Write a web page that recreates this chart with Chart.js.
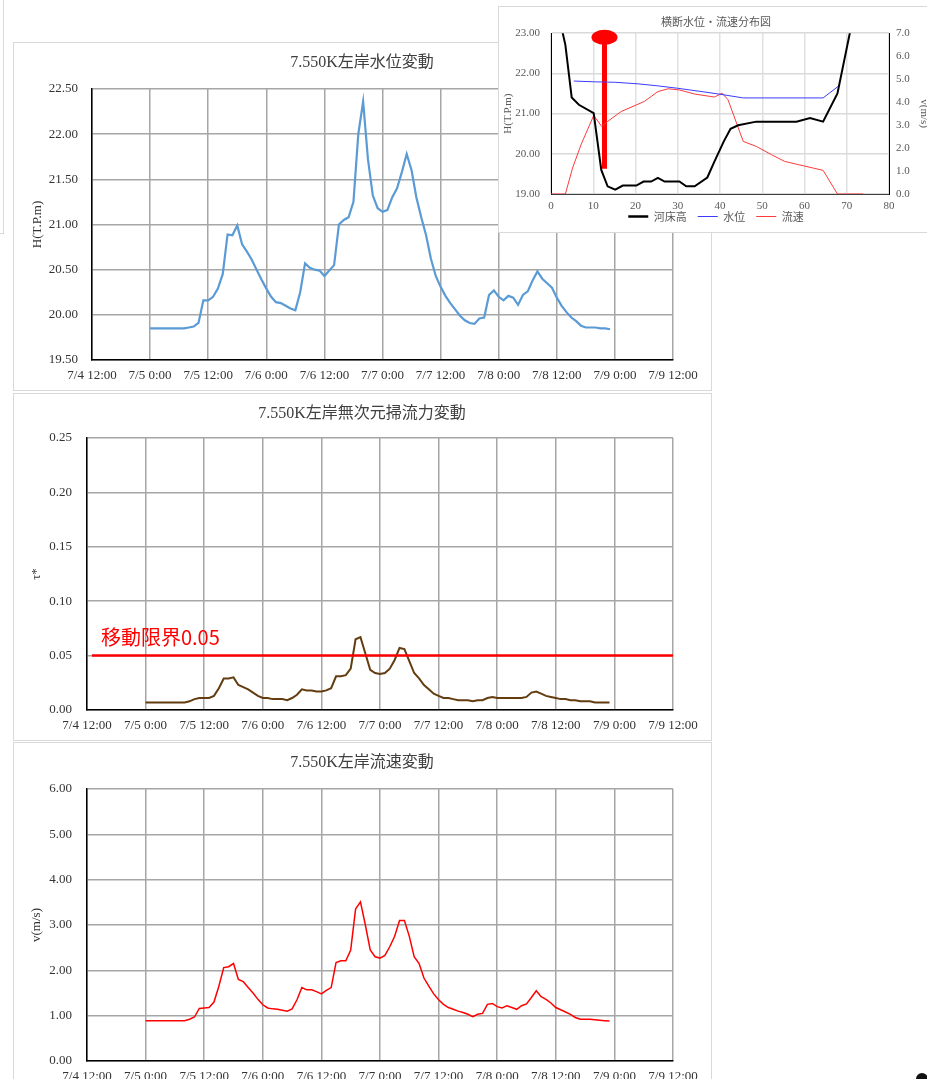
<!DOCTYPE html>
<html lang="ja">
<head>
<meta charset="utf-8">
<title>7.550K左岸 水位・掃流力・流速変動</title>
<script src="https://cdn.jsdelivr.net/npm/chart.js@4.4.1/dist/chart.umd.min.js"></script>
<style>
  html, body { margin: 0; padding: 0; background: #fff; width: 927px; height: 1079px; overflow: hidden; }
  .panel { position: absolute; background: #fff; border: 1px solid #d9d9d9; box-sizing: border-box; }
  canvas { position: absolute; }
  .dot { position: absolute; left: 916px; top: 1073px; width: 12px; height: 12px; border-radius: 50%; background: #111; }
</style>
</head>
<body>
<div class="panel" style="left:-12px;top:-12px;width:16px;height:246px"></div>

<div class="panel" style="left:13px;top:42px;width:699px;height:349px"></div>
<canvas id="levelChart" width="698" height="348" style="left:13px;top:42px"></canvas>

<div class="panel" style="left:13px;top:393px;width:699px;height:348px"></div>
<canvas id="tauChart" width="698" height="347" style="left:13px;top:393px"></canvas>

<div class="panel" style="left:13px;top:742px;width:699px;height:360px"></div>
<canvas id="velocityChart" width="698" height="349" style="left:13px;top:742px"></canvas>

<div class="panel" style="left:498px;top:6px;width:440px;height:227px;z-index:2"></div>
<canvas id="sectionChart" width="434" height="225" style="left:499px;top:7px;z-index:3"></canvas>

<div class="dot"></div>

<script>
// ---- time axis: hours counted from 7/5 0:00 ----
const timeTickLabels = ['7/4 12:00', '7/5 0:00', '7/5 12:00', '7/6 0:00', '7/6 12:00', '7/7 0:00',
                        '7/7 12:00', '7/8 0:00', '7/8 12:00', '7/9 0:00', '7/9 12:00'];
const tickStepHours = 12;
const axisStartHour = -12;

// hourly water level H (T.P. m) at 7.550K left bank
const waterLevel = [
  19.85, 19.85, 19.85, 19.85, 19.85, 19.85, 19.85, 19.85, 19.86, 19.87,
  19.91, 20.16, 20.16, 20.20, 20.29, 20.45, 20.89, 20.88, 20.99, 20.78,
  20.70, 20.61, 20.50, 20.39, 20.29, 20.20, 20.14, 20.13, 20.10, 20.07,
  20.05, 20.25, 20.57, 20.52, 20.50, 20.49, 20.43, 20.49, 20.55, 21.00,
  21.05, 21.08, 21.25, 22.00, 22.36, 21.72, 21.32, 21.18, 21.14, 21.16,
  21.30, 21.40, 21.58, 21.78, 21.60, 21.30, 21.08, 20.88, 20.62, 20.43,
  20.31, 20.21, 20.13, 20.06, 19.99, 19.94, 19.91, 19.90, 19.96, 19.97,
  20.22, 20.27, 20.20, 20.16, 20.21, 20.19, 20.11, 20.22, 20.26, 20.38,
  20.48, 20.40, 20.35, 20.30, 20.19, 20.10, 20.03, 19.97, 19.93, 19.88,
  19.86, 19.86, 19.86, 19.85, 19.85, 19.84
];

// hourly dimensionless tractive force τ*
const tractiveForce = [
  0.007, 0.007, 0.007, 0.007, 0.007, 0.007, 0.007, 0.007, 0.007, 0.008,
  0.010, 0.011, 0.011, 0.011, 0.013, 0.020, 0.029, 0.029, 0.030, 0.023,
  0.021, 0.019, 0.016, 0.013, 0.011, 0.011, 0.010, 0.010, 0.010, 0.009,
  0.011, 0.014, 0.019, 0.018, 0.018, 0.017, 0.017, 0.018, 0.020, 0.031,
  0.031, 0.032, 0.038, 0.065, 0.067, 0.052, 0.037, 0.034, 0.033, 0.034,
  0.038, 0.046, 0.057, 0.056, 0.045, 0.034, 0.029, 0.023, 0.019, 0.015,
  0.013, 0.011, 0.011, 0.010, 0.009, 0.009, 0.009, 0.008, 0.009, 0.009,
  0.011, 0.012, 0.011, 0.011, 0.011, 0.011, 0.011, 0.011, 0.012, 0.016,
  0.017, 0.015, 0.013, 0.012, 0.011, 0.010, 0.010, 0.009, 0.009, 0.008,
  0.008, 0.008, 0.007, 0.007, 0.007, 0.007
];

// hourly flow velocity v (m/s)
const velocity = [
  0.89, 0.89, 0.89, 0.89, 0.89, 0.89, 0.89, 0.89, 0.89, 0.92,
  0.97, 1.16, 1.17, 1.18, 1.30, 1.65, 2.06, 2.08, 2.15, 1.80,
  1.75, 1.62, 1.50, 1.36, 1.24, 1.17, 1.15, 1.14, 1.12, 1.10,
  1.15, 1.35, 1.62, 1.57, 1.57, 1.53, 1.48, 1.56, 1.62, 2.17,
  2.21, 2.21, 2.45, 3.35, 3.51, 3.00, 2.45, 2.30, 2.27, 2.33,
  2.52, 2.75, 3.10, 3.10, 2.75, 2.30, 2.15, 1.83, 1.65, 1.48,
  1.35, 1.25, 1.18, 1.14, 1.10, 1.07, 1.03, 0.98, 1.03, 1.05,
  1.25, 1.27, 1.20, 1.17, 1.22, 1.18, 1.14, 1.22, 1.26, 1.40,
  1.55, 1.42, 1.36, 1.28, 1.18, 1.13, 1.08, 1.03, 0.96, 0.92,
  0.92, 0.92, 0.91, 0.90, 0.89, 0.88
];

// threshold of bed movement
const moveLimit = 0.05;
const limitHours = [-11, 108];
const limitLabel = '移動限界' + moveLimit.toFixed(2);

// ---- cross section ----
const bedStation = [1.5, 3.4, 4.9, 6.6, 10.1, 11.9, 13.4, 15.2, 17.0, 20.2, 21.9, 23.7, 25.3, 26.9,
                    30.4, 32.0, 34.0, 37.0, 38.7, 40.9, 42.5, 44.3, 48.6, 54.2, 58.1, 61.3, 64.4, 67.8, 71.5];
const bedElevation = [23.6, 22.71, 21.40, 21.22, 21.01, 19.60, 19.19, 19.11, 19.21, 19.21, 19.31, 19.31, 19.40, 19.31,
                      19.31, 19.19, 19.19, 19.41, 19.81, 20.31, 20.62, 20.71, 20.80, 20.80, 20.80, 20.89, 20.80, 21.50, 23.40];
const wsStation = [5.4, 10.3, 15.0, 20.6, 25.3, 30.0, 34.8, 39.5, 45.5, 50.6, 64.4, 68.0];
const wsElevation = [21.81, 21.79, 21.78, 21.74, 21.69, 21.63, 21.56, 21.49, 21.39, 21.39, 21.39, 21.68];
const velStation = [0, 3.4, 5.1, 7.1, 10.1, 12.0, 13.4, 16.6, 22.1, 25.3, 27.7, 30.4, 34.0, 38.7,
                    40.5, 41.9, 45.5, 48.6, 52.2, 55.3, 58.5, 64.4, 67.8, 73.9];
const velSection = [0, 0, 1.13, 2.14, 3.42, 2.94, 3.16, 3.59, 4.03, 4.46, 4.58, 4.53, 4.35, 4.22,
                    4.39, 4.10, 2.29, 2.07, 1.71, 1.42, 1.28, 1.03, 0, 0];
const pointStation = [12.66];
const pointRange = [19.63, 22.9];
const sectionSeries = ['河床高', '水位', '流速'];

// ---- drawing ----
const SERIF = "'Liberation Serif', 'Noto Sans CJK JP', serif";
const CJK = "'Noto Sans CJK JP', 'Liberation Serif', sans-serif";
const axisMax = axisStartHour + tickStepHours * (timeTickLabels.length - 1);

function hourly(values) {
  return values.map((v, i) => ({ x: i, y: v }));
}

function timeChart(id, cfg) {
  return new Chart(document.getElementById(id), {
    type: 'line',
    data: { datasets: cfg.datasets },
    options: {
      responsive: false,
      animation: false,
      devicePixelRatio: 1,
      layout: { padding: 0 },
      elements: { point: { radius: 0 }, line: { tension: 0 } },
      plugins: {
        legend: { display: false },
        tooltip: { enabled: false },
        title: {
          display: true, text: cfg.title, color: '#404040',
          font: { family: SERIF, size: 16, weight: 'normal' },
          padding: { top: 11, bottom: cfg.titleGap }
        }
      },
      scales: {
        x: {
          type: 'linear', min: axisStartHour, max: axisMax,
          afterFit: s => { s.height = 30; },
          ticks: {
            stepSize: tickStepHours, autoSkip: false, maxRotation: 0, minRotation: 0,
            padding: 8, color: '#333', font: { family: SERIF, size: 13 },
            callback: v => timeTickLabels[Math.round((v - axisStartHour) / tickStepHours)]
          },
          grid: { color: '#a6a6a6', lineWidth: 1.5, drawTicks: false },
          border: { color: '#000', width: 1.5 }
        },
        y: {
          min: cfg.yMin, max: cfg.yMax,
          afterFit: s => { s.width = cfg.yWidth; },
          ticks: {
            stepSize: cfg.yStep, padding: cfg.yPad, color: '#333',
            font: { family: SERIF, size: 13 },
            callback: v => v.toFixed(2)
          },
          grid: { color: '#a6a6a6', lineWidth: 1.5, drawTicks: false },
          border: { color: '#000', width: 1.5 },
          title: {
            display: true, text: cfg.yTitle, color: '#333',
            font: { family: SERIF, size: 13 },
            padding: { top: cfg.yTitlePad, bottom: 0 }
          }
        },
        // empty strip on the right so the plot ends before the panel edge
        gutter: {
          type: 'linear', position: 'right', min: 0, max: 1,
          afterFit: s => { s.width = 38; },
          ticks: { display: false },
          grid: { display: false, drawTicks: false },
          border: { display: false }
        }
      }
    },
    plugins: cfg.plugins || []
  });
}

timeChart('levelChart', {
  title: '7.550K左岸水位変動', titleGap: 16.8,
  yMin: 19.5, yMax: 22.5, yStep: 0.5, yWidth: 79, yPad: 14,
  yTitle: 'H(T.P.m)', yTitlePad: 17,
  datasets: [{ data: hourly(waterLevel), borderColor: '#5b9bd5', borderWidth: 2.2 }]
});

const limitLabelPlugin = {
  id: 'limitLabel',
  afterDatasetsDraw(chart) {
    const { ctx, scales: { x, y } } = chart;
    ctx.save();
    ctx.fillStyle = '#ff0000';
    ctx.font = '20px ' + CJK;
    ctx.textBaseline = 'alphabetic';
    ctx.textAlign = 'left';
    ctx.fillText(limitLabel, x.getPixelForValue(limitHours[0]) + 9, y.getPixelForValue(moveLimit) - 11);
    ctx.restore();
  }
};

timeChart('tauChart', {
  title: '7.550K左岸無次元掃流力変動', titleGap: 14.8,
  yMin: 0, yMax: 0.25, yStep: 0.05, yWidth: 74, yPad: 15,
  yTitle: 'τ*', yTitlePad: 16,
  datasets: [
    { data: limitHours.map(h => ({ x: h, y: moveLimit })), borderColor: '#ff0000', borderWidth: 2.5 },
    { data: hourly(tractiveForce), borderColor: '#633d10', borderWidth: 2 }
  ],
  plugins: [limitLabelPlugin]
});

timeChart('velocityChart', {
  title: '7.550K左岸流速変動', titleGap: 16.8,
  yMin: 0, yMax: 6, yStep: 1, yWidth: 74, yPad: 15,
  yTitle: 'v(m/s)', yTitlePad: 16,
  datasets: [{ data: hourly(velocity), borderColor: '#ff0000', borderWidth: 1.5 }]
});

// round head on top of the observation-point bar
const pointHeadPlugin = {
  id: 'pointHead',
  afterDatasetsDraw(chart) {
    const meta = chart.getDatasetMeta(3);
    const head = meta.data[meta.data.length - 1];
    const ctx = chart.ctx;
    ctx.save();
    ctx.fillStyle = '#ff0000';
    ctx.beginPath();
    ctx.ellipse(head.x, head.y, 13, 7.5, 0, 0, Math.PI * 2);
    ctx.fill();
    ctx.restore();
  }
};

const pairs = (xs, ys) => xs.map((x, i) => ({ x, y: ys[i] }));
const tickFont = { family: SERIF, size: 11 };
// ideographic space keeps the legend entries apart
const legendGap = '\u3000';

new Chart(document.getElementById('sectionChart'), {
  type: 'line',
  data: {
    datasets: [
      { label: sectionSeries[0] + legendGap, data: pairs(bedStation, bedElevation), yAxisID: 'y',
        borderColor: '#000', borderWidth: 2, pointBorderWidth: 2.5, pointStyle: 'line', pointRadius: 0 },
      { label: sectionSeries[1] + legendGap, data: pairs(wsStation, wsElevation), yAxisID: 'y',
        borderColor: '#3b3bff', borderWidth: 1, pointBorderWidth: 1, pointStyle: 'line', pointRadius: 0 },
      { label: sectionSeries[2], data: pairs(velStation, velSection), yAxisID: 'y1',
        borderColor: '#ff3b3b', borderWidth: 1, pointBorderWidth: 1, pointStyle: 'line', pointRadius: 0 },
      { label: 'point', data: pointRange.map(h => ({ x: pointStation[0], y: h })), yAxisID: 'y',
        borderColor: '#ff0000', borderWidth: 5, borderCapStyle: 'butt', pointRadius: 0 }
    ]
  },
  options: {
    responsive: false,
    animation: false,
    devicePixelRatio: 1,
    layout: { padding: 0 },
    elements: { line: { tension: 0 } },
    plugins: {
      tooltip: { enabled: false },
      title: {
        display: true, text: '横断水位・流速分布図', color: '#595959',
        font: { family: CJK, size: 11, weight: 'normal' },
        padding: { top: 8, bottom: 5 }
      },
      legend: {
        position: 'bottom',
        labels: {
          usePointStyle: true, pointStyleWidth: 20, padding: 0,
          color: '#595959', font: { family: CJK, size: 11 },
          filter: item => item.datasetIndex < 3
        }
      }
    },
    scales: {
      x: {
        type: 'linear', min: 0, max: 80,
        afterFit: s => { s.height = 17; },
        ticks: { stepSize: 10, padding: 6, color: '#595959', font: tickFont, maxRotation: 0 },
        grid: { color: '#e0e0e0', lineWidth: 1.5, drawTicks: false },
        border: { color: '#404040', width: 1 }
      },
      y: {
        position: 'left', min: 19, max: 23,
        afterFit: s => { s.width = 52; },
        ticks: { stepSize: 1, padding: 11, color: '#595959', font: tickFont, callback: v => v.toFixed(2) },
        grid: { color: '#d9d9d9', lineWidth: 1.5, drawTicks: false },
        border: { color: '#000', width: 1 },
        title: { display: true, text: 'H(T.P.m)', color: '#595959', font: tickFont, padding: { top: 3, bottom: 0 } }
      },
      y1: {
        position: 'right', min: 0, max: 7,
        afterFit: s => { s.width = 44; },
        ticks: { stepSize: 1, padding: 7, color: '#595959', font: tickFont, callback: v => v.toFixed(1) },
        grid: { drawOnChartArea: false, drawTicks: false },
        border: { color: '#000', width: 1 },
        title: { display: true, text: 'v(m/s)', color: '#595959', font: tickFont, padding: { top: 3, bottom: 0 } }
      }
    }
  },
  plugins: [pointHeadPlugin]
});
</script>
</body>
</html>
